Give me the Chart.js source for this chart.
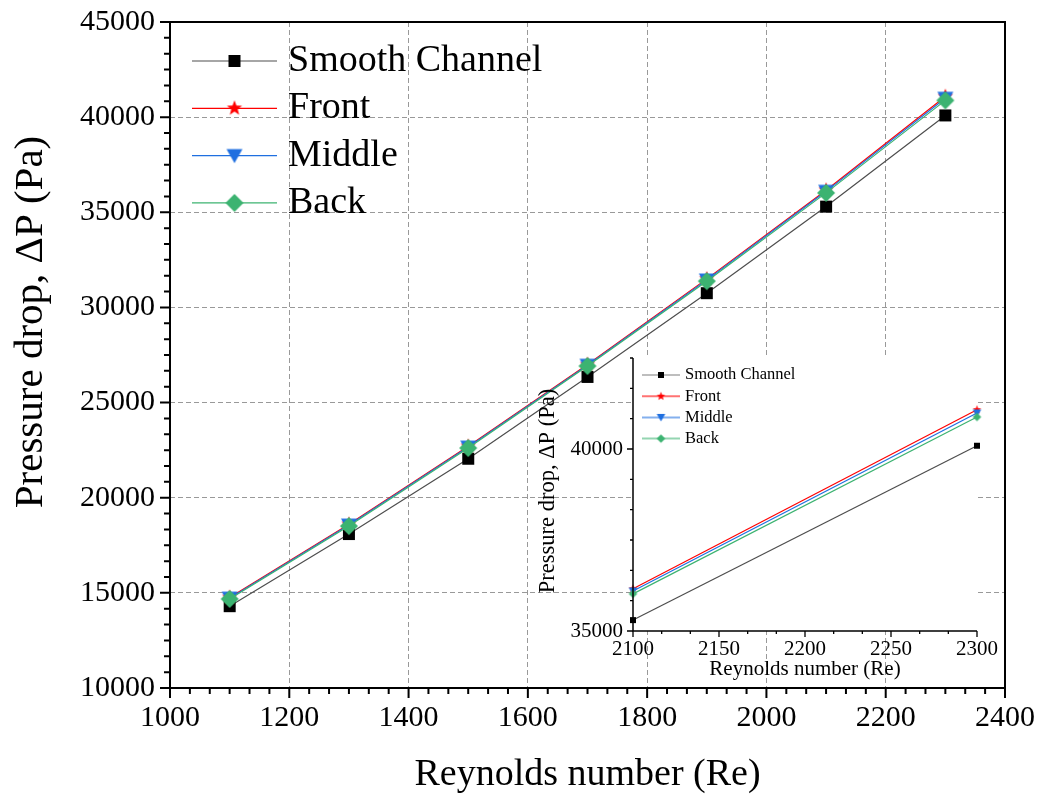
<!DOCTYPE html>
<html>
<head>
<meta charset="utf-8">
<script src="https://cdn.jsdelivr.net/npm/chart.js@4.4.1/dist/chart.umd.min.js"></script>
<style>
  html, body { margin: 0; padding: 0; background: #fff; }
  #wrap { position: relative; width: 1042px; height: 798px; }
  #main { position: absolute; left: 0; top: 0; }
  #inset { position: absolute; left: 520px; top: 340px; }
</style>
</head>
<body>
<div id="wrap">
  <canvas id="main" width="1042" height="798"></canvas>
  <canvas id="inset" width="500" height="350"></canvas>
</div>
<script>
// pressure drop vs Reynolds number
var reynolds = [1100, 1300, 1500, 1700, 1900, 2100, 2300];
var smooth = [14300, 18090, 22050, 26350, 30750, 35300, 40090];
var front  = [14760, 18600, 22700, 27000, 31500, 36160, 41080];
var middle = [14720, 18560, 22660, 26960, 31440, 36100, 40990];
var back   = [14680, 18510, 22610, 26920, 31380, 36020, 40880];
var seriesNames = ['Smooth Channel', 'Front', 'Middle', 'Back'];

// axis ranges: [min, max, labelled step]
var mainX = [1000, 2400, 200];
var mainY = [10000, 45000, 5000];
var insetX = [2100, 2300, 50];
var insetY = [35000, 42500, 5000];
var insetFrom = 5; // inset shows the last two points

var SERIF = '"Liberation Serif", "Times New Roman", serif';
var colors = ['#000000', '#ff0000', '#1f6fe0', '#3cb371'];
var lineColors = ['#4d4d4d', '#ff0000', '#1f6fe0', '#3cb371'];
var shapes = ['square', 'star', 'down', 'diamond'];

// filled marker drawn on a small canvas, used as pointStyle
function makeMarker(shape, color, size) {
  var c = document.createElement('canvas');
  c.width = c.height = Math.ceil(size) + 4;
  var g = c.getContext('2d');
  var m = c.width / 2, r = size / 2;
  g.fillStyle = color;
  g.beginPath();
  if (shape === 'square') {
    g.rect(m - r, m - r, size, size);
  } else if (shape === 'diamond') {
    g.moveTo(m, m - r); g.lineTo(m + r, m); g.lineTo(m, m + r); g.lineTo(m - r, m);
  } else if (shape === 'down') {
    g.moveTo(m - r, m - r * 0.8); g.lineTo(m + r, m - r * 0.8); g.lineTo(m, m + r * 0.95);
  } else if (shape === 'star') {
    for (var k = 0; k < 10; k++) {
      var rr = k % 2 ? r * 0.42 : r;
      var ang = -Math.PI / 2 + k * Math.PI / 5;
      var px = m + rr * Math.cos(ang), py = m + rr * Math.sin(ang);
      if (k === 0) g.moveTo(px, py); else g.lineTo(px, py);
    }
  }
  g.closePath();
  g.fill();
  return c;
}

var mainSizes = [12, 16, 16, 18];
var insetSizes = [6, 9, 8.5, 8.5];
var mainMarkers = shapes.map(function (s, i) { return makeMarker(s, colors[i], mainSizes[i]); });
var insetMarkers = shapes.map(function (s, i) { return makeMarker(s, colors[i], insetSizes[i]); });

function buildDatasets(xs, lists, markers, width) {
  return lists.map(function (vals, i) {
    return {
      label: seriesNames[i],
      data: xs.map(function (x, j) { return { x: x, y: vals[j] }; }),
      borderColor: lineColors[i],
      borderWidth: width,
      pointStyle: markers[i],
      pointRadius: 8,
      fill: false,
      tension: 0,
      clip: false,
      order: 3 - i
    };
  });
}

// outward tick marks (major + minor) and the axis lines
function tickPlugin(o) {
  return {
    id: 'tickMarks',
    afterDraw: function (chart) {
      var ctx = chart.ctx, a = chart.chartArea;
      var sx = chart.scales.x, sy = chart.scales.y;
      ctx.save();
      ctx.strokeStyle = '#000';
      ctx.lineWidth = o.tickWidth;
      ctx.beginPath();
      var n = Math.round((o.x[1] - o.x[0]) / (o.x[2] / o.xDiv));
      for (var i = 0; i <= n; i++) {
        var px = sx.getPixelForValue(o.x[0] + i * o.x[2] / o.xDiv);
        var len = i % o.xDiv === 0 ? o.major : o.minor;
        ctx.moveTo(px, a.bottom); ctx.lineTo(px, a.bottom + len);
      }
      var m = Math.round((o.y[1] - o.y[0]) / (o.y[2] / o.yDiv));
      for (var j = 0; j <= m; j++) {
        var py = sy.getPixelForValue(o.y[0] + j * o.y[2] / o.yDiv);
        var len2 = j % o.yDiv === 0 ? o.major : o.minor;
        ctx.moveTo(a.left, py); ctx.lineTo(a.left - len2, py);
      }
      ctx.stroke();
      ctx.lineWidth = o.axisWidth;
      ctx.beginPath();
      if (o.box) {
        ctx.rect(a.left, a.top, a.right - a.left, a.bottom - a.top);
      } else {
        ctx.moveTo(a.left, a.top); ctx.lineTo(a.left, a.bottom); ctx.lineTo(a.right, a.bottom);
      }
      ctx.stroke();
      ctx.restore();
    }
  };
}

// legend: short line with the marker in its middle, then the name
function legendPlugin(o) {
  return {
    id: 'lineLegend',
    afterDraw: function (chart) {
      var ctx = chart.ctx;
      ctx.save();
      ctx.font = o.fontSize + 'px ' + SERIF;
      ctx.textBaseline = 'middle';
      ctx.textAlign = 'left';
      chart.data.datasets.forEach(function (ds, i) {
        var y = o.y + i * o.gap;
        ctx.globalAlpha = o.alpha;
        ctx.strokeStyle = i === 0 ? '#888888' : lineColors[i];
        ctx.lineWidth = o.lineWidth;
        ctx.beginPath();
        ctx.moveTo(o.x, y); ctx.lineTo(o.x + o.len, y);
        ctx.stroke();
        ctx.globalAlpha = 1;
        var img = o.markers[i];
        ctx.drawImage(img, o.x + o.len / 2 - img.width / 2, y - img.height / 2);
        ctx.fillStyle = '#000';
        ctx.fillText(ds.label, o.x + o.len + o.textGap, y);
      });
      ctx.restore();
    }
  };
}

// rotated y title, placed by hand
function yTitlePlugin(text, x, y, size) {
  return {
    id: 'yTitle',
    afterDraw: function (chart) {
      var ctx = chart.ctx;
      ctx.save();
      ctx.translate(x, y);
      ctx.rotate(-Math.PI / 2);
      ctx.font = size + 'px ' + SERIF;
      ctx.fillStyle = '#000';
      ctx.textAlign = 'center';
      ctx.textBaseline = 'middle';
      ctx.fillText(text, 0, 0);
      ctx.restore();
    }
  };
}

var whiteArea = {
  id: 'whiteArea',
  beforeDraw: function (chart) {
    var a = chart.chartArea, ctx = chart.ctx;
    ctx.save();
    ctx.fillStyle = '#fff';
    ctx.fillRect(a.left, a.top, a.right - a.left, a.bottom - a.top);
    ctx.restore();
  }
};

function plain(v) { return String(v); }
function everyFiveThousand(v) { return v % 5000 === 0 ? String(v) : ''; }
function fixX(h) { return function (s) { s.height = h; s.paddingLeft = 0; s.paddingRight = 0; }; }
function fixY(w) { return function (s) { s.width = w; s.paddingTop = 0; s.paddingBottom = 0; }; }

// main chart
new Chart(document.getElementById('main').getContext('2d'), {
  type: 'line',
  data: { datasets: buildDatasets(reynolds, [smooth, front, middle, back], mainMarkers, 1.2) },
  options: {
    responsive: false,
    animation: false,
    layout: { padding: { top: 22, right: 37, left: 0, bottom: 0 } },
    plugins: { legend: { display: false }, tooltip: { enabled: false } },
    scales: {
      x: {
        type: 'linear', min: mainX[0], max: mainX[1],
        afterFit: fixX(110),
        ticks: { stepSize: mainX[2], autoSkip: false, maxRotation: 0, padding: 12, color: '#000',
          font: { family: SERIF, size: 30 }, callback: plain },
        grid: { color: '#999999', lineWidth: 1, drawTicks: false },
        border: { display: false, dash: [5, 3] },
        title: { display: true, text: 'Reynolds number (Re)', color: '#000',
          font: { family: SERIF, size: 38 }, padding: { top: 0, bottom: 0 } }
      },
      y: {
        type: 'linear', min: mainY[0], max: mainY[1],
        afterFit: fixY(170),
        ticks: { stepSize: mainY[2], autoSkip: false, padding: 15, color: '#000',
          font: { family: SERIF, size: 30 }, callback: plain },
        grid: { color: '#999999', lineWidth: 1, drawTicks: false },
        border: { display: false, dash: [5, 3] },
        title: { display: false }
      }
    }
  },
  plugins: [
    tickPlugin({ x: mainX, y: mainY, xDiv: 6, yDiv: 6, major: 10, minor: 6, tickWidth: 2, axisWidth: 2, box: true }),
    legendPlugin({ x: 192, y: 61, gap: 47.3, len: 85, textGap: 11, fontSize: 38, lineWidth: 1.3, alpha: 1, markers: mainMarkers }),
    yTitlePlugin('Pressure drop, \u0394P (Pa)', 31, 322, 41)
  ]
});

// zoomed inset of the last two points
new Chart(document.getElementById('inset').getContext('2d'), {
  type: 'line',
  data: { datasets: buildDatasets(reynolds.slice(insetFrom),
    [smooth, front, middle, back].map(function (a) { return a.slice(insetFrom); }), insetMarkers, 1.2) },
  options: {
    responsive: false,
    animation: false,
    layout: { padding: { top: 18, right: 43, left: 0, bottom: 0 } },
    plugins: { legend: { display: false }, tooltip: { enabled: false } },
    scales: {
      x: {
        type: 'linear', min: insetX[0], max: insetX[1],
        afterFit: fixX(59),
        ticks: { stepSize: insetX[2], autoSkip: false, maxRotation: 0, padding: 6, color: '#000',
          font: { family: SERIF, size: 21 }, callback: plain },
        grid: { display: false, drawTicks: false },
        border: { display: false },
        title: { display: true, text: 'Reynolds number (Re)', color: '#000',
          font: { family: SERIF, size: 21 }, padding: { top: 0, bottom: 8 } }
      },
      y: {
        type: 'linear', min: insetY[0], max: insetY[1],
        afterFit: fixY(113),
        // half steps so the range divides evenly; only multiples of 5000 get a label
        ticks: { stepSize: insetY[2] / 2, autoSkip: false, padding: 10, color: '#000',
          font: { family: SERIF, size: 21 }, callback: everyFiveThousand },
        grid: { display: false, drawTicks: false },
        border: { display: false },
        title: { display: false }
      }
    }
  },
  plugins: [
    whiteArea,
    tickPlugin({ x: insetX, y: insetY, xDiv: 3, yDiv: 6, major: 6, minor: 3, tickWidth: 1.3, axisWidth: 1.5, box: false }),
    legendPlugin({ x: 122, y: 35, gap: 21.2, len: 38, textGap: 5, fontSize: 16.5, lineWidth: 2, alpha: 0.55, markers: insetMarkers }),
    yTitlePlugin('Pressure drop, \u0394P (Pa)', 28, 151, 22.5)
  ]
});
</script>
</body>
</html>
